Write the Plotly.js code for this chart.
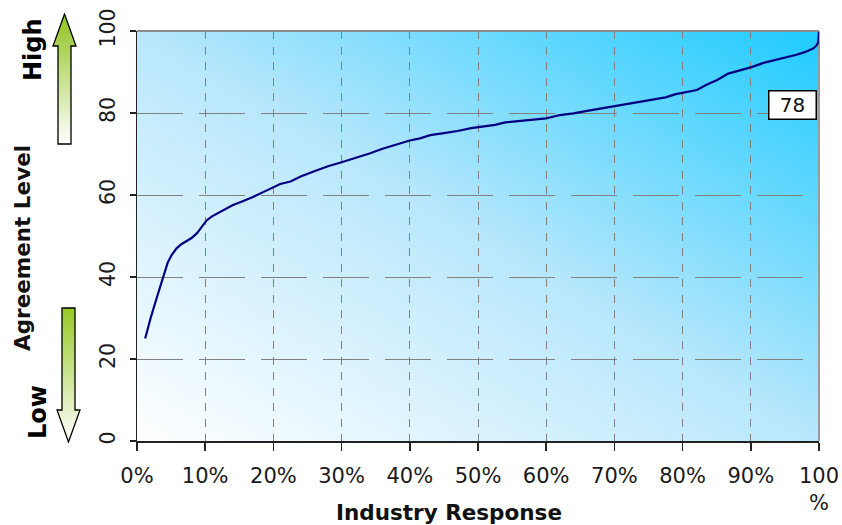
<!DOCTYPE html>
<html>
<head>
<meta charset="utf-8">
<script src="https://cdn.plot.ly/plotly-3.0.1.min.js"></script>
<style>
html,body{margin:0;padding:0;background:#fff;}
#chart{width:842px;height:525px;}
</style>
</head>
<body>
<div id="chart"></div>
<script>
// Data
const responsePct = [1.2, 2, 3, 3.9, 4.5, 5.1, 5.8, 6.5, 7.3, 8, 8.8, 9.5, 10.2, 11, 12, 13, 14, 15.5, 17, 18.5, 20, 21, 22.5, 24, 26, 28, 30, 32, 34.2, 36, 38.6, 40, 41.5, 43, 45, 47, 49, 51, 52.5, 54, 56, 58, 60, 62, 64, 66, 68, 70, 72, 74, 76, 77.5, 79, 80.1, 82.1, 83.5, 85, 86.7, 88, 90.1, 92, 93.8, 95.5, 96.7, 98, 99.2, 99.7, 99.9, 100];
const agreement = [25, 30, 35.5, 40.5, 43.5, 45.4, 47, 48, 48.8, 49.5, 50.7, 52.2, 53.8, 54.8, 55.7, 56.6, 57.5, 58.5, 59.5, 60.7, 61.9, 62.7, 63.3, 64.5, 65.8, 67, 68, 69, 70.2, 71.3, 72.6, 73.3, 73.8, 74.6, 75.1, 75.6, 76.3, 76.7, 77.1, 77.7, 78, 78.3, 78.7, 79.5, 79.9, 80.5, 81.1, 81.7, 82.3, 82.9, 83.4, 83.8, 84.6, 84.9, 85.6, 86.9, 88, 89.6, 90.2, 91.2, 92.3, 93, 93.6, 94.2, 94.9, 95.8, 96.6, 97.4, 100];
const xTickVals = [0, 10, 20, 30, 40, 50, 60, 70, 80, 90, 100];
const xTickText = ["0%", "10%", "20%", "30%", "40%", "50%", "60%", "70%", "80%", "90%", "100<br>%"];
const yTickVals = [0, 20, 40, 60, 80, 100];
const yTickText = ["0", "20", "40", "60", "80", "100"];
const labelValue = "78";

const W = 842, H = 525;
const L = 137, R = 819, T = 31, B = 441;
const pw = R - L, ph = B - T;
const px = x => (x - L) / pw;
const py = y => (B - y) / ph;

function svgURI(svg){ return 'data:image/svg+xml;charset=utf-8,' + encodeURIComponent(svg); }

const bgSVg = '<svg xmlns="http://www.w3.org/2000/svg" width="682" height="410" viewBox="0 0 682 410" preserveAspectRatio="none">' +
  '<defs><linearGradient id="g" x1="0" y1="1" x2="1" y2="0">' +
  '<stop offset="0" stop-color="#ffffff"/><stop offset="0.5" stop-color="#b8e7fc"/><stop offset="1" stop-color="#1ecbff"/>' +
  '</linearGradient></defs><rect x="0" y="0" width="682" height="410" fill="url(#g)"/></svg>';

const upSVG = '<svg xmlns="http://www.w3.org/2000/svg" width="25" height="132" viewBox="0 0 25 132" preserveAspectRatio="none">' +
  '<defs><linearGradient id="a" x1="0" y1="0" x2="0" y2="1">' +
  '<stop offset="0" stop-color="#8fc31f"/><stop offset="1" stop-color="#ffffff"/></linearGradient></defs>' +
  '<path d="M12.5,1 L24,33 L19,33 L19,131 L6,131 L6,33 L1,33 Z" fill="url(#a)" stroke="#000" stroke-width="1.3"/></svg>';

const downSVG = '<svg xmlns="http://www.w3.org/2000/svg" width="25" height="136" viewBox="0 0 25 136" preserveAspectRatio="none">' +
  '<defs><linearGradient id="b" x1="0" y1="0" x2="0" y2="1">' +
  '<stop offset="0" stop-color="#97c823"/><stop offset="1" stop-color="#ffffff"/></linearGradient></defs>' +
  '<path d="M6,1 L19,1 L19,103 L24,103 L12.5,135 L1,103 L6,103 Z" fill="url(#b)" stroke="#000" stroke-width="1.3"/></svg>';

const trace = {
  x: responsePct,
  y: agreement,
  type: 'scatter',
  mode: 'lines',
  line: {color: '#000080', width: 2.2},
  hoverinfo: 'skip',
  cliponaxis: false
};

const font = 'DejaVu Sans, Verdana, sans-serif';

const layout = {
  width: W, height: H,
  margin: {l: L, r: W - R, t: T, b: H - B, pad: 0},
  paper_bgcolor: '#ffffff',
  plot_bgcolor: 'rgba(0,0,0,0)',
  showlegend: false,
  xaxis: {
    range: [0, 100],
    tickvals: xTickVals,
    ticktext: xTickText,
    ticks: 'outside', ticklen: 8, tickcolor: '#222', tickwidth: 1.5,
    showline: true, linecolor: '#222', linewidth: 1.5,
    showgrid: true, gridcolor: '#808080', gridwidth: 1, griddash: '8px,7.5px',
    zeroline: false,
    tickfont: {family: font, size: 21, color: '#1a1a1a'},
    ticklabelstandoff: 7,
    fixedrange: true
  },
  yaxis: {
    range: [0, 100],
    tickvals: yTickVals,
    ticktext: yTickText,
    tickangle: -90,
    ticks: 'outside', ticklen: 6, tickcolor: '#222', tickwidth: 1.5,
    showline: true, linecolor: '#222', linewidth: 1.5,
    showgrid: true, gridcolor: '#808080', gridwidth: 1, griddash: '46px,16px',
    zeroline: false,
    tickfont: {family: font, size: 20.5, color: '#1a1a1a'},
    ticklabelstandoff: 6,
    fixedrange: true
  },
  images: [
    {source: svgURI(bgSVg), xref: 'paper', yref: 'paper', x: 0, y: 1, sizex: 1, sizey: 1, sizing: 'stretch', layer: 'below', xanchor: 'left', yanchor: 'top'},
    {source: svgURI(upSVG), xref: 'paper', yref: 'paper', x: px(52), y: py(13), sizex: 25/pw, sizey: 132/ph, sizing: 'stretch', layer: 'above', xanchor: 'left', yanchor: 'top'},
    {source: svgURI(downSVG), xref: 'paper', yref: 'paper', x: px(56), y: py(307), sizex: 25/pw, sizey: 136/ph, sizing: 'stretch', layer: 'above', xanchor: 'left', yanchor: 'top'}
  ],
  shapes: [
    {type: 'line', xref: 'paper', yref: 'paper', x0: 0, x1: 1, y0: 1, y1: 1, line: {color: '#8a8a8a', width: 2}, layer: 'above'},
    {type: 'line', xref: 'paper', yref: 'paper', x0: 1, x1: 1, y0: 0, y1: 1, line: {color: '#9a9a9a', width: 2}, layer: 'below'}
  ],
  annotations: [
    {text: 'Industry Response', xref: 'paper', yref: 'paper', x: px(449), y: py(512), showarrow: false,
     font: {family: font, size: 21.5, color: '#111', weight: 'bold'}, xanchor: 'center', yanchor: 'middle'},
    {text: 'Agreement Level', xref: 'paper', yref: 'paper', x: px(22), y: py(248), textangle: -90, showarrow: false,
     font: {family: font, size: 21.5, color: '#111', weight: 'bold'}, xanchor: 'center', yanchor: 'middle'},
    {text: 'High', xref: 'paper', yref: 'paper', x: px(33), y: py(50), textangle: -90, showarrow: false,
     font: {family: font, size: 24, color: '#000', weight: 'bold'}, xanchor: 'center', yanchor: 'middle'},
    {text: 'Low', xref: 'paper', yref: 'paper', x: px(38), y: py(412), textangle: -90, showarrow: false,
     font: {family: font, size: 24, color: '#000', weight: 'bold'}, xanchor: 'center', yanchor: 'middle'},
    {text: labelValue, xref: 'paper', yref: 'paper', x: px(792.5), y: py(105), showarrow: false,
     font: {family: font, size: 20, color: '#111'}, bgcolor: '#ffffff', bordercolor: '#000', borderwidth: 1.5,
     width: 44, height: 25, xanchor: 'center', yanchor: 'middle'}
  ]
};

Plotly.newPlot('chart', [trace], layout, {displayModeBar: false, staticPlot: true});
</script>
</body>
</html>
